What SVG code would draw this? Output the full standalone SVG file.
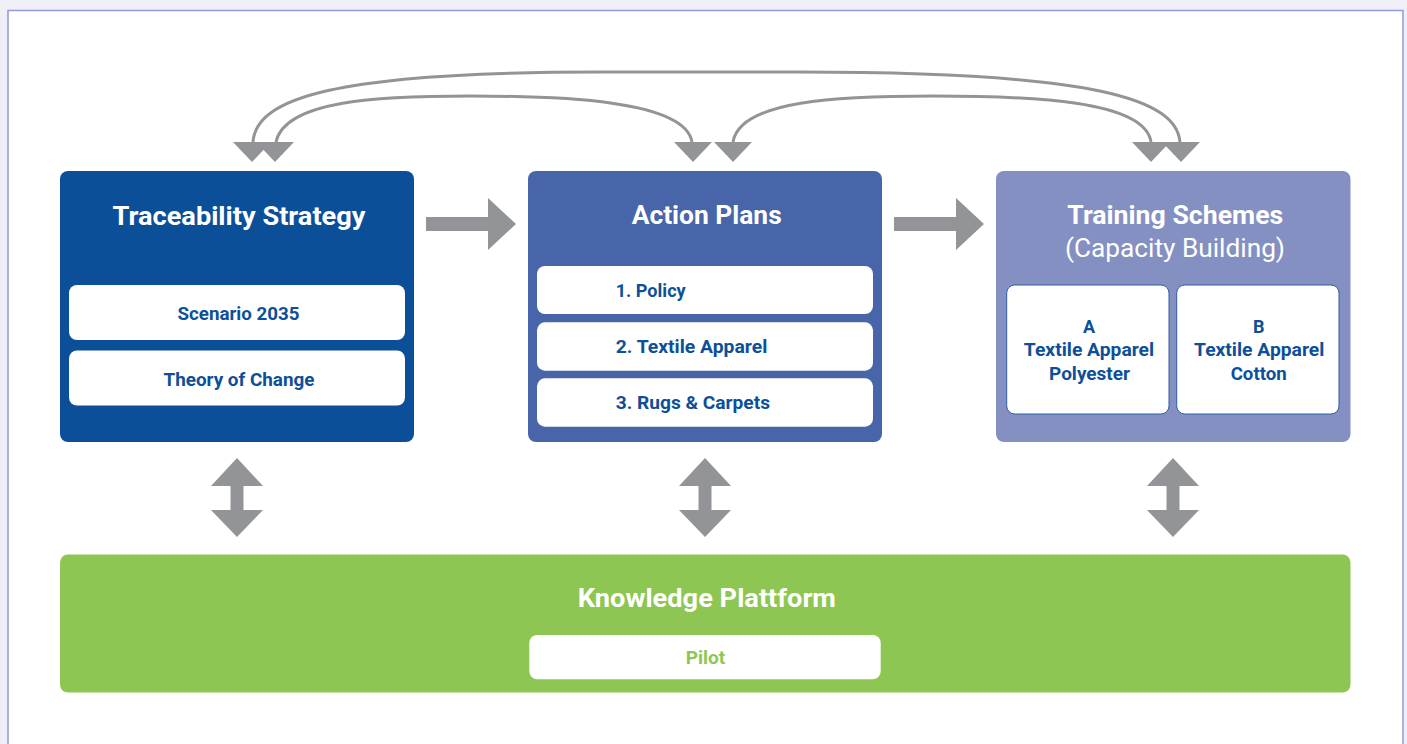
<svg xmlns="http://www.w3.org/2000/svg" xmlns:xlink="http://www.w3.org/1999/xlink" width="1407" height="744" viewBox="0 0 1407 744">
<style>
.bg{fill:#eff0f7}
.panel{fill:#ffffff;stroke:#8f9bd6;stroke-width:1.5}
.inner{fill:#ffffff}
.innerB{fill:#ffffff;stroke:#2d5ca4;stroke-width:1}
.title{font-family:Roboto,"Liberation Sans",sans-serif;font-weight:700;font-size:26px;fill:#ffffff;text-anchor:middle}
.sub{font-family:Roboto,"Liberation Sans",sans-serif;font-weight:400;font-size:26px;fill:#ffffff;text-anchor:middle}
.lbl{font-family:Roboto,"Liberation Sans",sans-serif;font-weight:700;font-size:18px;fill:#0d4f98}
.mid{text-anchor:middle}
.curve{fill:none;stroke:#939498;stroke-width:3}
.gray{fill:#939498}
</style>
<defs>
<polygon id="tri" points="-19,0 19,0 0,20"/>
<polygon id="harrow" points="0,-7 62,-7 62,-26 90,0 62,26 62,7 0,7"/>
<polygon id="varrow" points="0,0 26,28 6.5,28 6.5,52 26,52 0,79 -26,52 -6.5,52 -6.5,28 -26,28"/>
</defs>
<rect class="bg" x="0" y="0" width="1407" height="744"/>
<rect class="panel" x="8" y="10.5" width="1395" height="740"/>

<g id="connectors">
<path class="curve" d="M253,142 C256,98 335,72 600,72 L800,72 C1100,72 1176,100 1180,142"/>
<path class="curve" d="M276,142 C285,100 380,96 470,96 C560,96 685,100 692,142"/>
<path class="curve" d="M733,142 C740,100 840,96 933,96 C1030,96 1145,100 1151,142"/>
<g class="gray">
<use xlink:href="#tri" x="252" y="142"/>
<use xlink:href="#tri" x="275" y="142"/>
<use xlink:href="#tri" x="693" y="142"/>
<use xlink:href="#tri" x="733" y="142"/>
<use xlink:href="#tri" x="1151" y="142"/>
<use xlink:href="#tri" x="1181" y="142"/>
<use xlink:href="#harrow" x="426" y="224"/>
<use xlink:href="#harrow" x="894" y="224"/>
<use xlink:href="#varrow" x="237" y="458"/>
<use xlink:href="#varrow" x="705" y="458"/>
<use xlink:href="#varrow" x="1173" y="458"/>
</g>
</g>

<g id="traceability">
<rect x="60" y="171" width="354" height="271" rx="8" fill="#0b4f99"/>
<text class="title" x="239" y="225" textLength="253" lengthAdjust="spacingAndGlyphs">Traceability Strategy</text>
<rect class="inner" x="69" y="285" width="336" height="55" rx="8"/>
<text class="lbl mid" x="238.5" y="320" textLength="122" lengthAdjust="spacingAndGlyphs">Scenario 2035</text>
<rect class="inner" x="69" y="350.5" width="336" height="55" rx="8"/>
<text class="lbl mid" x="239" y="386" textLength="151" lengthAdjust="spacingAndGlyphs">Theory of Change</text>
</g>

<g id="actionplans">
<rect x="528" y="171" width="354" height="271" rx="8" fill="#4765a8"/>
<text class="title" x="706.7" y="224" textLength="150" lengthAdjust="spacingAndGlyphs">Action Plans</text>
<rect class="inner" x="537" y="266" width="336" height="48" rx="8"/>
<text class="lbl" x="615.7" y="297" textLength="70" lengthAdjust="spacingAndGlyphs">1. Policy</text>
<rect class="inner" x="537" y="322.3" width="336" height="48.4" rx="8"/>
<text class="lbl" x="615.7" y="353.3" textLength="151.6" lengthAdjust="spacingAndGlyphs">2. Textile Apparel</text>
<rect class="inner" x="537" y="378.3" width="336" height="48.4" rx="8"/>
<text class="lbl" x="615.7" y="409.3" textLength="154.3" lengthAdjust="spacingAndGlyphs">3. Rugs &amp; Carpets</text>
</g>

<g id="training">
<rect x="996" y="171" width="354.5" height="271" rx="8" fill="#8590c2"/>
<text class="title" x="1175.3" y="224.3" textLength="216" lengthAdjust="spacingAndGlyphs">Training Schemes</text>
<text class="sub" x="1175" y="257.3" textLength="220" lengthAdjust="spacingAndGlyphs">(Capacity Building)</text>
<rect class="innerB" x="1006.7" y="285" width="162.3" height="129" rx="8"/>
<text class="lbl mid" x="1089" y="332.7">A</text>
<text class="lbl mid" x="1089" y="356.3" textLength="130.3" lengthAdjust="spacingAndGlyphs">Textile Apparel</text>
<text class="lbl mid" x="1089.5" y="380.3" textLength="81" lengthAdjust="spacingAndGlyphs">Polyester</text>
<rect class="innerB" x="1176.7" y="285" width="162.3" height="129" rx="8"/>
<text class="lbl mid" x="1258.7" y="332.7">B</text>
<text class="lbl mid" x="1259.2" y="356.3" textLength="130.3" lengthAdjust="spacingAndGlyphs">Textile Apparel</text>
<text class="lbl mid" x="1258.7" y="380.3" textLength="56" lengthAdjust="spacingAndGlyphs">Cotton</text>
</g>

<g id="knowledge">
<rect x="60" y="554.5" width="1290.5" height="138" rx="8" fill="#8ec653"/>
<text class="title" x="706.8" y="607.3" textLength="258.3" lengthAdjust="spacingAndGlyphs">Knowledge Plattform</text>
<rect class="inner" x="529.3" y="635" width="351.4" height="44.3" rx="8"/>
<text class="lbl mid" x="705.5" y="664.3" textLength="39.6" lengthAdjust="spacingAndGlyphs" style="fill:#8ec653">Pilot</text>
</g>
</svg>
